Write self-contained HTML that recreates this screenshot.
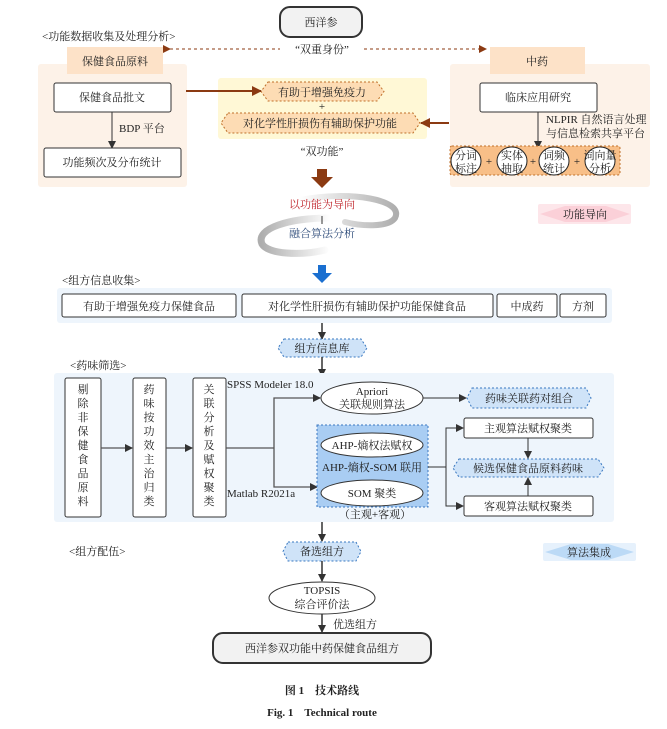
<!DOCTYPE html>
<html><head><meta charset="utf-8"><style>
html,body{margin:0;padding:0;background:#fff;}
svg{display:block;}
text{font-family:"Liberation Serif","Noto Serif CJK SC","Noto Sans CJK SC",serif;font-size:11px;fill:#222;}
</style></head><body>
<svg width="667" height="729" viewBox="0 0 667 729" xmlns="http://www.w3.org/2000/svg">
<defs>
<marker id="ak" markerWidth="8" markerHeight="8" refX="7" refY="4" orient="auto" markerUnits="userSpaceOnUse"><path d="M0,0 L8,4 L0,8 Z" fill="#333"/></marker>
<marker id="ab" markerWidth="10" markerHeight="10" refX="9" refY="5" orient="auto" markerUnits="userSpaceOnUse"><path d="M0,0 L10,5 L0,10 Z" fill="#8b3a12"/></marker>
<marker id="ad" markerWidth="8" markerHeight="8" refX="7" refY="4" orient="auto" markerUnits="userSpaceOnUse"><path d="M0,0 L8,4 L0,8 Z" fill="#8b3a12"/></marker>
<linearGradient id="g1" x1="0" y1="0" x2="1" y2="0"><stop offset="0" stop-color="#fff"/><stop offset="1" stop-color="#999"/></linearGradient>
<linearGradient id="g2" x1="1" y1="0" x2="0" y2="0"><stop offset="0" stop-color="#fff"/><stop offset="1" stop-color="#999"/></linearGradient>
</defs>

<rect x="280" y="7" width="82" height="30" rx="10" fill="#f2f2f2" stroke="#333" stroke-width="2"/>
<text x="321" y="26" text-anchor="middle" font-size="12">西洋参</text>
<text x="42" y="40">&lt;功能数据收集及处理分析&gt;</text>
<line x1="170" y1="49" x2="280" y2="49" stroke="#8b3a12" stroke-dasharray="3,3" marker-start="url(#ad)"/>
<line x1="364" y1="49" x2="486" y2="49" stroke="#8b3a12" stroke-dasharray="3,3" marker-end="url(#ad)"/>
<text x="322" y="53" text-anchor="middle">“双重身份”</text>

<rect x="38" y="64" width="149" height="123" rx="3" fill="#fdf2e8"/>
<rect x="67" y="47" width="96" height="27" fill="#fde2c8"/>
<text x="115" y="65" text-anchor="middle" font-size="12">保健食品原料</text>
<rect x="54" y="83" width="117" height="29" rx="2" fill="#fff" stroke="#333"/>
<text x="112" y="101" text-anchor="middle" font-size="12">保健食品批文</text>
<line x1="112" y1="112" x2="112" y2="148" stroke="#333" marker-end="url(#ak)"/>
<text x="119" y="132">BDP 平台</text>
<rect x="44" y="148" width="137" height="29" rx="2" fill="#fff" stroke="#333"/>
<text x="112" y="166" text-anchor="middle" font-size="12">功能频次及分布统计</text>

<rect x="218" y="78" width="209" height="61" rx="3" fill="#fff8d6"/>
<path d="M268,82 L377,82 L384,91.5 L377,101 L268,101 L261,91.5 Z" fill="#fddcb4" stroke="#c0702a" stroke-dasharray="2,2"/>
<text x="322" y="96" text-anchor="middle">有助于增强免疫力</text>
<text x="322" y="110" text-anchor="middle" font-size="12">+</text>
<path d="M228,113 L413,113 L420,123 L413,133 L228,133 L221,123 Z" fill="#fddcb4" stroke="#c0702a" stroke-dasharray="2,2"/>
<text x="320" y="127" text-anchor="middle">对化学性肝损伤有辅助保护功能</text>
<line x1="186" y1="91" x2="261" y2="91" stroke="#8b3a12" stroke-width="2" marker-end="url(#ab)"/>
<line x1="449" y1="123" x2="421" y2="123" stroke="#8b3a12" stroke-width="2" marker-end="url(#ab)"/>
<text x="322" y="155" text-anchor="middle">“双功能”</text>
<path d="M317,169 L327,169 L327,177 L333,177 L322,188 L311,177 L317,177 Z" fill="#8b3a12"/>

<rect x="450" y="64" width="200" height="123" rx="3" fill="#fdf2e8"/>
<rect x="490" y="47" width="95" height="27" fill="#fde2c8"/>
<text x="537" y="65" text-anchor="middle" font-size="12">中药</text>
<rect x="480" y="83" width="117" height="29" rx="2" fill="#fff" stroke="#333"/>
<text x="538" y="101" text-anchor="middle" font-size="12">临床应用研究</text>
<line x1="538" y1="112" x2="538" y2="148" stroke="#333" marker-end="url(#ak)"/>
<text x="546" y="123">NLPIR 自然语言处理</text>
<text x="546" y="137">与信息检索共享平台</text>
<rect x="450" y="146" width="170" height="29" rx="2" fill="#f8bf88" stroke="#c0702a" stroke-dasharray="2,2"/>
<g fill="#fff" stroke="#222">
<ellipse cx="466" cy="161" rx="15" ry="14"/><ellipse cx="512" cy="161" rx="15" ry="14"/><ellipse cx="554" cy="161" rx="15" ry="14"/><ellipse cx="600" cy="161" rx="15" ry="14"/>
</g>
<g font-size="10.5" text-anchor="middle">
<text x="466" y="159">分词</text><text x="466" y="172">标注</text>
<text x="512" y="159">实体</text><text x="512" y="172">抽取</text>
<text x="554" y="159">词频</text><text x="554" y="172">统计</text>
<text x="600" y="159">词向量</text><text x="600" y="172">分析</text>
<text x="489" y="165">+</text><text x="533" y="165">+</text><text x="577" y="165">+</text>
</g>

<!-- swirl -->
<path d="M300,200 C350,190 405,200 395,218 C388,228 360,226 345,222" fill="none" stroke="url(#g1)" stroke-width="6" stroke-linecap="round" opacity="0.8"/>
<path d="M330,218 C290,218 255,228 262,244 C268,254 300,256 325,250" fill="none" stroke="url(#g2)" stroke-width="7" stroke-linecap="round" opacity="0.8"/>
<text x="322" y="208" text-anchor="middle" font-size="12" style="fill:#c0282e">以功能为导向</text>
<line x1="322" y1="216" x2="322" y2="224" stroke="#333"/>
<text x="322" y="237" text-anchor="middle" font-size="12" style="fill:#2e4c7a">融合算法分析</text>
<rect x="538" y="204" width="93" height="20" rx="2" fill="#fde6ea"/>
<path d="M540,214 L565,206 L606,206 L630,214 L606,222 L565,222 Z" fill="#fbd0d8"/>
<text x="585" y="218" text-anchor="middle" font-size="12">功能导向</text>

<path d="M318,265 L326,265 L326,273 L332,273 L322,283 L312,273 L318,273 Z" fill="#1a6fd0"/>

<text x="62" y="284">&lt;组方信息收集&gt;</text>
<rect x="57" y="288" width="555" height="35" rx="3" fill="#eef5fc"/>
<g fill="#fff" stroke="#333">
<rect x="62" y="294" width="174" height="23" rx="2"/><rect x="242" y="294" width="251" height="23" rx="2"/>
<rect x="497" y="294" width="60" height="23" rx="2"/><rect x="560" y="294" width="46" height="23" rx="2"/>
</g>
<g text-anchor="middle" font-size="12">
<text x="149" y="310">有助于增强免疫力保健食品</text>
<text x="367" y="310">对化学性肝损伤有辅助保护功能保健食品</text>
<text x="527" y="310">中成药</text><text x="583" y="310">方剂</text>
</g>
<line x1="322" y1="323" x2="322" y2="339" stroke="#333" stroke-width="1.5" marker-end="url(#ak)"/>
<path d="M284,339 L361,339 L367,348 L361,357 L284,357 L278,348 Z" fill="#cfe3f8" stroke="#3a78c0" stroke-dasharray="2,2"/>
<text x="322" y="352" text-anchor="middle">组方信息库</text>
<line x1="322" y1="357" x2="322" y2="376" stroke="#333" stroke-width="1.5" marker-end="url(#ak)"/>

<text x="70" y="369">&lt;药味筛选&gt;</text>
<rect x="54" y="373" width="560" height="149" rx="3" fill="#eef5fc"/>
<g fill="#fff" stroke="#333">
<rect x="65" y="378" width="36" height="139" rx="2"/><rect x="133" y="378" width="33" height="139" rx="2"/><rect x="193" y="378" width="33" height="139" rx="2"/>
</g>
<g text-anchor="middle" font-size="11.5">
<text x="83" y="393">剔</text><text x="83" y="407">除</text><text x="83" y="421">非</text><text x="83" y="435">保</text><text x="83" y="449">健</text><text x="83" y="463">食</text><text x="83" y="477">品</text><text x="83" y="491">原</text><text x="83" y="505">料</text>
<text x="149" y="393">药</text><text x="149" y="407">味</text><text x="149" y="421">按</text><text x="149" y="435">功</text><text x="149" y="449">效</text><text x="149" y="463">主</text><text x="149" y="477">治</text><text x="149" y="491">归</text><text x="149" y="505">类</text>
<text x="209" y="393">关</text><text x="209" y="407">联</text><text x="209" y="421">分</text><text x="209" y="435">析</text><text x="209" y="449">及</text><text x="209" y="463">赋</text><text x="209" y="477">权</text><text x="209" y="491">聚</text><text x="209" y="505">类</text>
</g>
<line x1="101" y1="448" x2="132" y2="448" stroke="#555" stroke-width="1.3" marker-end="url(#ak)"/>
<line x1="166" y1="448" x2="192" y2="448" stroke="#555" stroke-width="1.3" marker-end="url(#ak)"/>
<polyline points="226,448 274,448" fill="none" stroke="#555" stroke-width="1.3"/>
<polyline points="320,398 274,398 274,487 317,487" fill="none" stroke="#555" stroke-width="1.3"/>
<line x1="310" y1="398" x2="320" y2="398" stroke="#555" marker-end="url(#ak)"/>
<line x1="306" y1="487" x2="317" y2="487" stroke="#555" marker-end="url(#ak)"/>
<text x="227" y="388" font-size="11">SPSS Modeler 18.0</text>
<text x="227" y="497" font-size="11">Matlab R2021a</text>
<ellipse cx="372" cy="398" rx="51" ry="16" fill="#fff" stroke="#333"/>
<text x="372" y="395" text-anchor="middle">Apriori</text>
<text x="372" y="408" text-anchor="middle">关联规则算法</text>
<line x1="423" y1="398" x2="466" y2="398" stroke="#333" marker-end="url(#ak)"/>
<path d="M472,388 L586,388 L591,398 L586,408 L472,408 L467,398 Z" fill="#cfe3f8" stroke="#3a78c0" stroke-dasharray="2,2"/>
<text x="529" y="402" text-anchor="middle">药味关联药对组合</text>
<rect x="317" y="425" width="111" height="82" fill="#a9cdf3" stroke="#3a78c0" stroke-dasharray="2,2"/>
<ellipse cx="372" cy="445" rx="51" ry="12" fill="#fff" stroke="#333"/>
<text x="372" y="449" text-anchor="middle">AHP-熵权法赋权</text>
<text x="372" y="471" text-anchor="middle">AHP-熵权-SOM 联用</text>
<ellipse cx="372" cy="493" rx="51" ry="13" fill="#fff" stroke="#333"/>
<text x="372" y="497" text-anchor="middle">SOM 聚类</text>
<text x="375" y="518" text-anchor="middle">（主观+客观）</text>
<polyline points="428,467 446,467" fill="none" stroke="#333"/>
<polyline points="463,428 446,428 446,506 463,506" fill="none" stroke="#333"/>
<line x1="450" y1="428" x2="463" y2="428" stroke="#333" marker-end="url(#ak)"/>
<line x1="450" y1="506" x2="463" y2="506" stroke="#333" marker-end="url(#ak)"/>
<rect x="464" y="418" width="129" height="20" rx="2" fill="#fff" stroke="#333"/>
<text x="528" y="432" text-anchor="middle" font-size="11.5">主观算法赋权聚类</text>
<rect x="464" y="496" width="129" height="20" rx="2" fill="#fff" stroke="#333"/>
<text x="528" y="510" text-anchor="middle" font-size="11.5">客观算法赋权聚类</text>
<path d="M459,459 L598,459 L604,468 L598,477 L459,477 L453,468 Z" fill="#cfe3f8" stroke="#3a78c0" stroke-dasharray="2,2"/>
<text x="528" y="472" text-anchor="middle" font-size="11.5">候选保健食品原料药味</text>
<line x1="528" y1="438" x2="528" y2="458" stroke="#333" marker-end="url(#ak)"/>
<line x1="528" y1="496" x2="528" y2="478" stroke="#333" marker-end="url(#ak)"/>

<line x1="322" y1="522" x2="322" y2="541" stroke="#333" stroke-width="1.5" marker-end="url(#ak)"/>
<text x="69" y="555">&lt;组方配伍&gt;</text>
<path d="M288,542 L356,542 L361,551.5 L356,561 L288,561 L283,551.5 Z" fill="#cfe3f8" stroke="#3a78c0" stroke-dasharray="2,2"/>
<text x="322" y="555" text-anchor="middle">备选组方</text>
<rect x="543" y="543" width="93" height="18" rx="2" fill="#e6f1fc"/>
<path d="M545,552 L571,544 L608,544 L634,552 L608,560 L571,560 Z" fill="#bcdaf6"/>
<text x="589" y="556" text-anchor="middle" font-size="12">算法集成</text>
<line x1="322" y1="561" x2="322" y2="581" stroke="#333" stroke-width="1.5" marker-end="url(#ak)"/>
<ellipse cx="322" cy="598" rx="53" ry="16" fill="#fff" stroke="#333"/>
<text x="322" y="594" text-anchor="middle" font-size="11.5">TOPSIS</text>
<text x="322" y="608" text-anchor="middle">综合评价法</text>
<line x1="322" y1="614" x2="322" y2="632" stroke="#333" stroke-width="1.5" marker-end="url(#ak)"/>
<text x="333" y="628">优选组方</text>
<rect x="213" y="633" width="218" height="30" rx="10" fill="#f2f2f2" stroke="#333" stroke-width="2"/>
<text x="322" y="652" text-anchor="middle" font-size="12">西洋参双功能中药保健食品组方</text>
<text x="322" y="694" text-anchor="middle" font-size="13" font-weight="bold">图 1　技术路线</text>
<text x="322" y="716" text-anchor="middle" font-size="13" font-weight="bold">Fig. 1　Technical route</text>
</svg>
</body></html>
